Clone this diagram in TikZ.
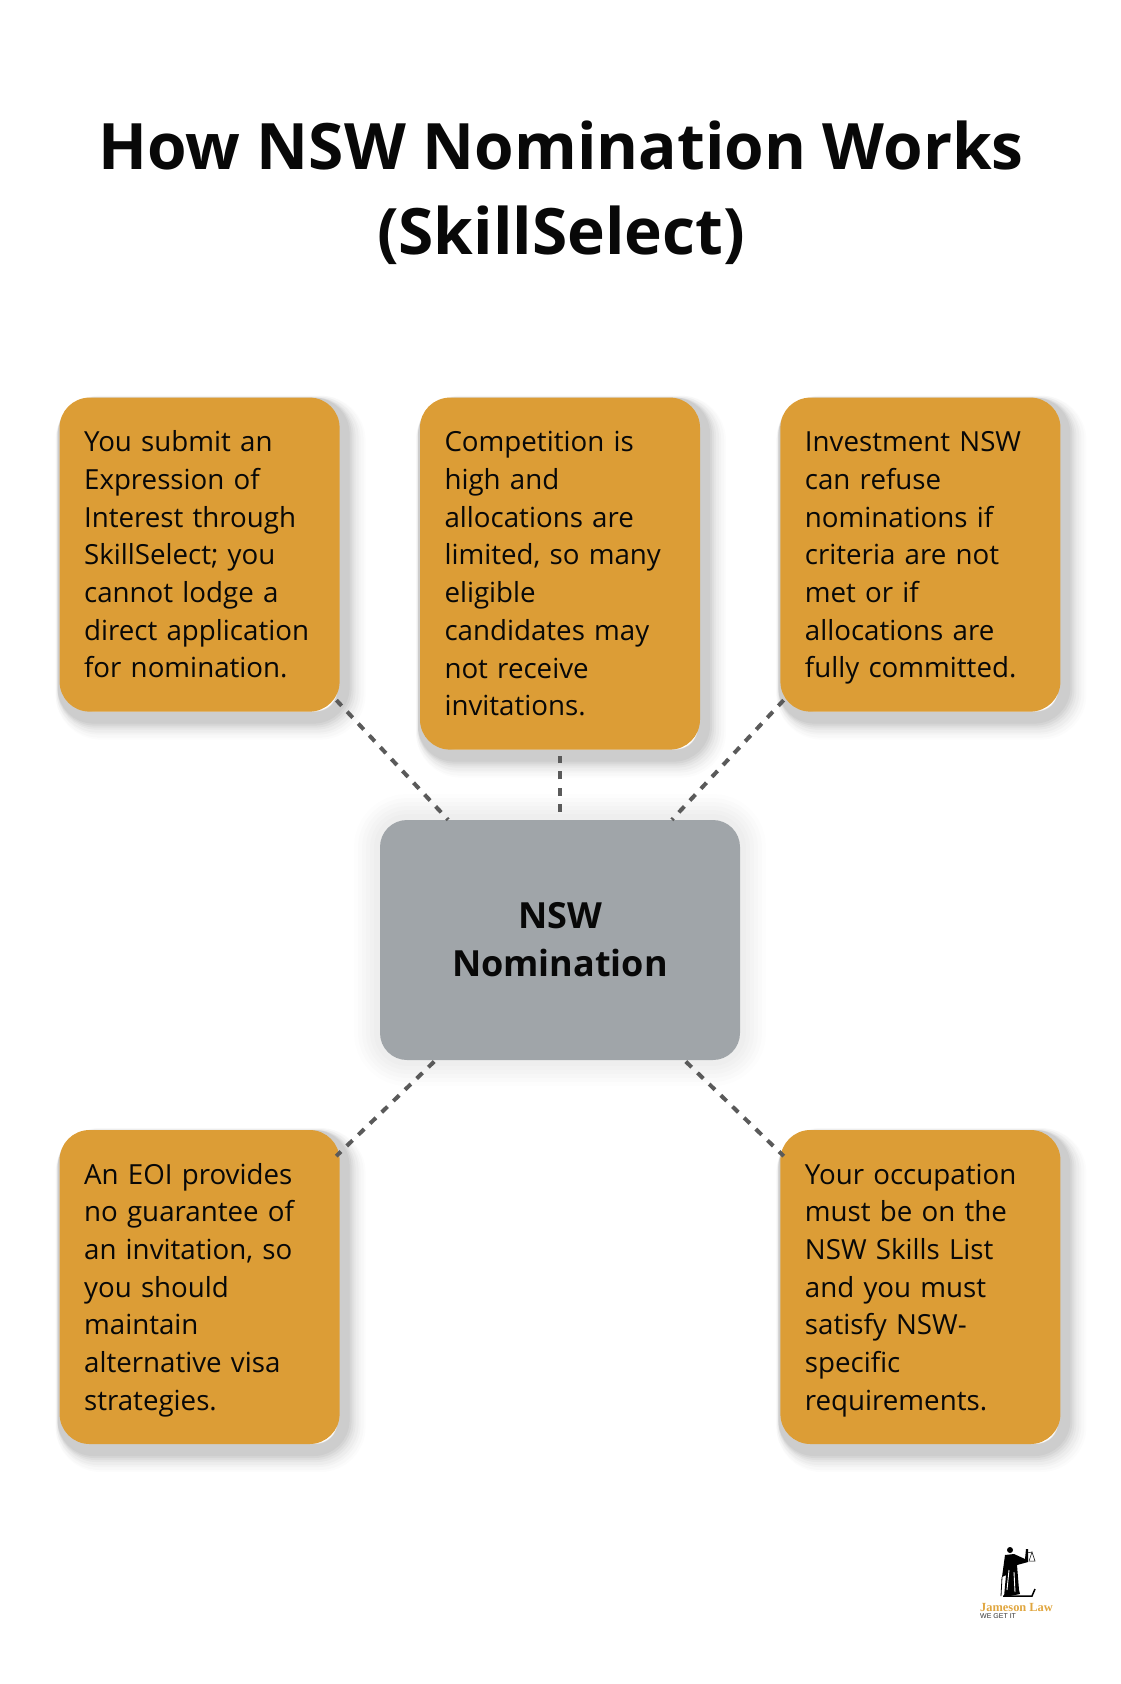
\documentclass[tikz,border=0pt]{standalone}
\usepackage{fontspec}
\setmainfont{Open Sans}
\newfontfamily\logofont{Liberation Serif}
\newfontfamily\taglinefont{Liberation Sans}
\usetikzlibrary{positioning,shadows}

\definecolor{cardfill}{HTML}{DC9D36}
\definecolor{hubfill}{HTML}{A0A5A9}
\definecolor{linkgray}{HTML}{5A5A5A}
\definecolor{inkblack}{HTML}{080808}
\definecolor{logogold}{HTML}{E0A63F}

\tikzset{
    softlayer/.style n args={4}{drop shadow={shadow xshift=#1,shadow yshift=-#2,
        fill=none,draw=black,line width=#3,opacity=#4}},
    card/.style={
        softlayer={11pt}{13pt}{30pt}{.012},softlayer={10pt}{12pt}{28pt}{.015},
        softlayer={9pt}{11pt}{24pt}{.02},softlayer={8pt}{10pt}{22pt}{.025},
        softlayer={7pt}{9pt}{18pt}{.03},softlayer={6pt}{8pt}{16pt}{.035},
        softlayer={5pt}{7pt}{14pt}{.04},softlayer={4pt}{6pt}{12pt}{.04},
        rectangle,
        rounded corners=30pt,
        fill=cardfill,
        text=inkblack,
        text width=231pt,
        align=left,
        inner xsep=24.5pt,
        inner ysep=0pt,
        minimum height=314pt,
        font=\fontsize{27.7}{37.7}\selectfont,
        execute at begin node=\rule{0pt}{31.6pt},
        execute at end node=\strut},
    hub/.style={
        softlayer={0pt}{0pt}{52pt}{.008},softlayer={0pt}{0pt}{44pt}{.01},
        softlayer={0pt}{0pt}{36pt}{.012},softlayer={0pt}{0pt}{28pt}{.012},
        softlayer={0pt}{0pt}{20pt}{.012},softlayer={0pt}{0pt}{12pt}{.012},
        rectangle,
        rounded corners=27pt,
        fill=hubfill,
        text=inkblack,
        minimum width=360pt,
        minimum height=240pt,
        align=center,
        font=\fontsize{36}{48}\selectfont\bfseries},
    link/.style={draw=linkgray,line width=4pt,dash pattern=on 8.1pt off 8.1pt}
}

\begin{document}
\begin{tikzpicture}[x=1pt,y=1pt]
\useasboundingbox (0,0) rectangle (1120,-1684);

% Title
\node[align=center,text=inkblack,font=\fontsize{64}{85}\selectfont\bfseries] (title) at (561,-193)
    {How NSW Nomination Works\\(SkillSelect)};

% Centre block
\node[hub] (nomination) at (560,-940) {NSW\\Nomination};

% Top row
\node[card,
    above=70pt of nomination,
    minimum height=352pt] (competition) {Competition is\\high and\\allocations are\\limited, so many\\eligible\\candidates may\\not receive\\invitations.};

\node[card,
    left=80pt of competition.north west,
    anchor=north east] (submit) {You submit an\\Expression of\\Interest through\\SkillSelect; you\\cannot lodge a\\direct application\\for nomination.};

\node[card,
    right=80pt of competition.north east,
    anchor=north west] (refuse) {Investment NSW\\can refuse\\nominations if\\criteria are not\\met or if\\allocations are\\fully committed.};

% Bottom row
\node[card,
    below=418pt of submit] (guarantee) {An EOI provides\\no guarantee of\\an invitation, so\\you should\\maintain\\alternative visa\\strategies.};

\node[card,
    below=418pt of refuse] (occupation) {Your occupation\\must be on the\\NSW Skills List\\and you must\\satisfy NSW-\\specific\\requirements.};

% Dotted links
\draw[link,dash phase=6pt,shorten >=-5pt] (nomination) -- (submit);
\draw[link,shorten >=6pt,shorten <=8pt] (nomination) -- (competition);
\draw[link,dash phase=6pt,shorten >=-5pt] (nomination) -- (refuse);
\draw[link,dash phase=14.2pt,shorten >=-5pt] (nomination) -- (guarantee);
\draw[link,dash phase=14.2pt,shorten >=-5pt] (nomination) -- (occupation);

% Logo
\fill[black] (1010,-1550) circle (3pt);
\fill[black] (1005,-1555) -- (1014,-1554) -- (1025,-1559) -- (1026,-1549) -- (1028,-1549) -- (1028,-1562)
    -- (1017,-1565) -- (1019,-1590) -- (1020,-1594) -- (1010,-1596) -- (1004,-1597) -- (1006,-1575) -- (1002,-1577) -- cycle;
\draw[white,line width=.9pt] (1009,-1570) -- (1007,-1590) (1014,-1572) -- (1015,-1592);
\draw[black,line width=.8pt] (1002,-1577) -- (1001,-1596);
\draw[black,line width=1.5pt] (1003,-1596) -- (1032,-1596) -- (1035,-1589);
\draw[black,line width=.5pt] (1026,-1553) -- (1032,-1552) (1032,-1552) -- (1029,-1561) -- (1035,-1561) -- cycle;
\node[inner sep=0pt,anchor=west,text=logogold,font=\logofont\fontsize{12.4}{13}\selectfont\bfseries] (firm) at (980,-1607) {Jameson Law};
\node[inner sep=0pt,anchor=west,text=black!80,font=\taglinefont\fontsize{7}{8}\selectfont] (tagline) at (980,-1616) {WE GET IT};

\end{tikzpicture}
\end{document}
